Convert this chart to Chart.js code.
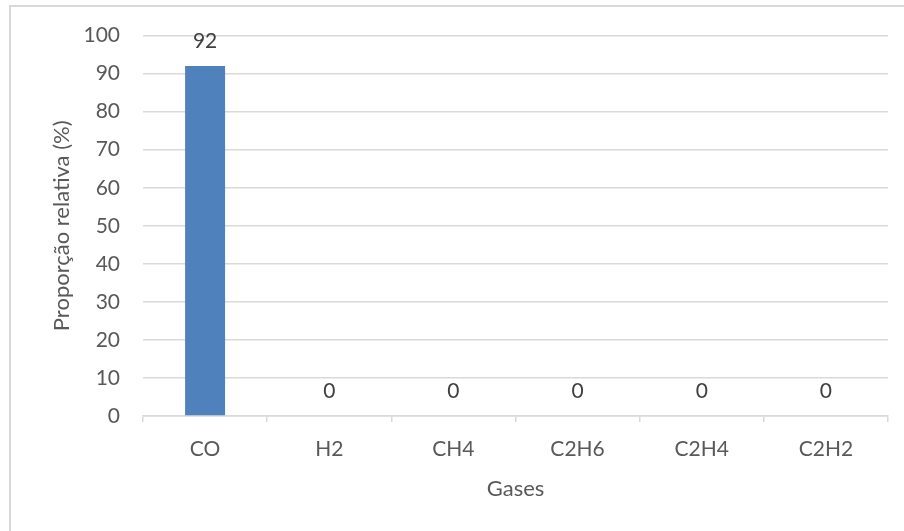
<!DOCTYPE html>
<html>
<head>
<meta charset="utf-8">
<script src="https://cdn.jsdelivr.net/npm/chart.js@4/dist/chart.umd.min.js"></script>
<style>
  html, body { margin: 0; padding: 0; background: #ffffff; }
  #wrap { position: relative; width: 904px; height: 531px; overflow: hidden; }
  #frame {
    position: absolute; left: 9px; top: 5px; width: 1000px; height: 1000px;
    border-top: 2px solid #d9d9d9; border-left: 2px solid #d9d9d9;
    pointer-events: none;
  }
  canvas { position: absolute; left: 0; top: 0; }
</style>
</head>
<body>
<div id="wrap">
  <div id="frame"></div>
  <canvas id="chart" width="904" height="531"></canvas>
</div>
<script>
// Gas composition data
const categories = ['CO', 'H2', 'CH4', 'C2H6', 'C2H4', 'C2H2'];
const proportions = [92, 0, 0, 0, 0, 0];
const yMin = 0;
const yMax = 100;
const yStep = 10;

const FONT = 'Lato';
const TICK_COLOR = '#595959';
const GRID_COLOR = '#d9d9d9';
const BAR_COLOR = '#4f81bd';

// Writes each bar's value just above its top
const valueLabels = {
  id: 'valueLabels',
  afterDatasetsDraw(chart) {
    const { ctx } = chart;
    const meta = chart.getDatasetMeta(0);
    const values = chart.data.datasets[0].data;
    ctx.save();
    ctx.font = '21px ' + FONT;
    ctx.fillStyle = '#404040';
    ctx.textAlign = 'center';
    ctx.textBaseline = 'middle';
    meta.data.forEach((bar, i) => {
      ctx.fillText(String(values[i]), bar.x, bar.y - 24.5);
    });
    ctx.restore();
  }
};

new Chart(document.getElementById('chart'), {
  type: 'bar',
  data: {
    labels: categories,
    datasets: [{
      data: proportions,
      backgroundColor: BAR_COLOR,
      borderWidth: 0,
      categoryPercentage: 1,
      barPercentage: 0.322
    }]
  },
  options: {
    responsive: false,
    devicePixelRatio: 1,
    animation: false,
    layout: { padding: { top: 34.5, right: 16, left: 0, bottom: 0 } },
    plugins: {
      legend: { display: false },
      tooltip: { enabled: false }
    },
    scales: {
      x: {
        afterFit(scale) { scale.height = 115; },
        grid: {
          offset: true,
          drawOnChartArea: false,
          drawTicks: true,
          tickLength: 6,
          color: GRID_COLOR,
          lineWidth: 1.5
        },
        border: { display: true, color: GRID_COLOR, width: 1.5 },
        ticks: {
          color: TICK_COLOR,
          font: { family: FONT, size: 21 },
          padding: 14.5,
          maxRotation: 0
        },
        title: {
          display: true,
          text: 'Gases',
          color: TICK_COLOR,
          font: { family: FONT, size: 22 },
          padding: { top: 0, bottom: 28.8 }
        }
      },
      y: {
        min: yMin,
        max: yMax,
        afterFit(scale) { scale.width = 143; },
        grid: {
          color: GRID_COLOR,
          lineWidth: 1.5,
          drawTicks: false
        },
        border: { display: false },
        ticks: {
          stepSize: yStep,
          color: TICK_COLOR,
          font: { family: FONT, size: 21 },
          padding: 23
        },
        title: {
          display: true,
          text: 'Proporção relativa (%)',
          color: TICK_COLOR,
          font: { family: FONT, size: 22 },
          padding: { top: 48.8, bottom: 0 }
        }
      }
    }
  },
  plugins: [valueLabels]
});
</script>
</body>
</html>
